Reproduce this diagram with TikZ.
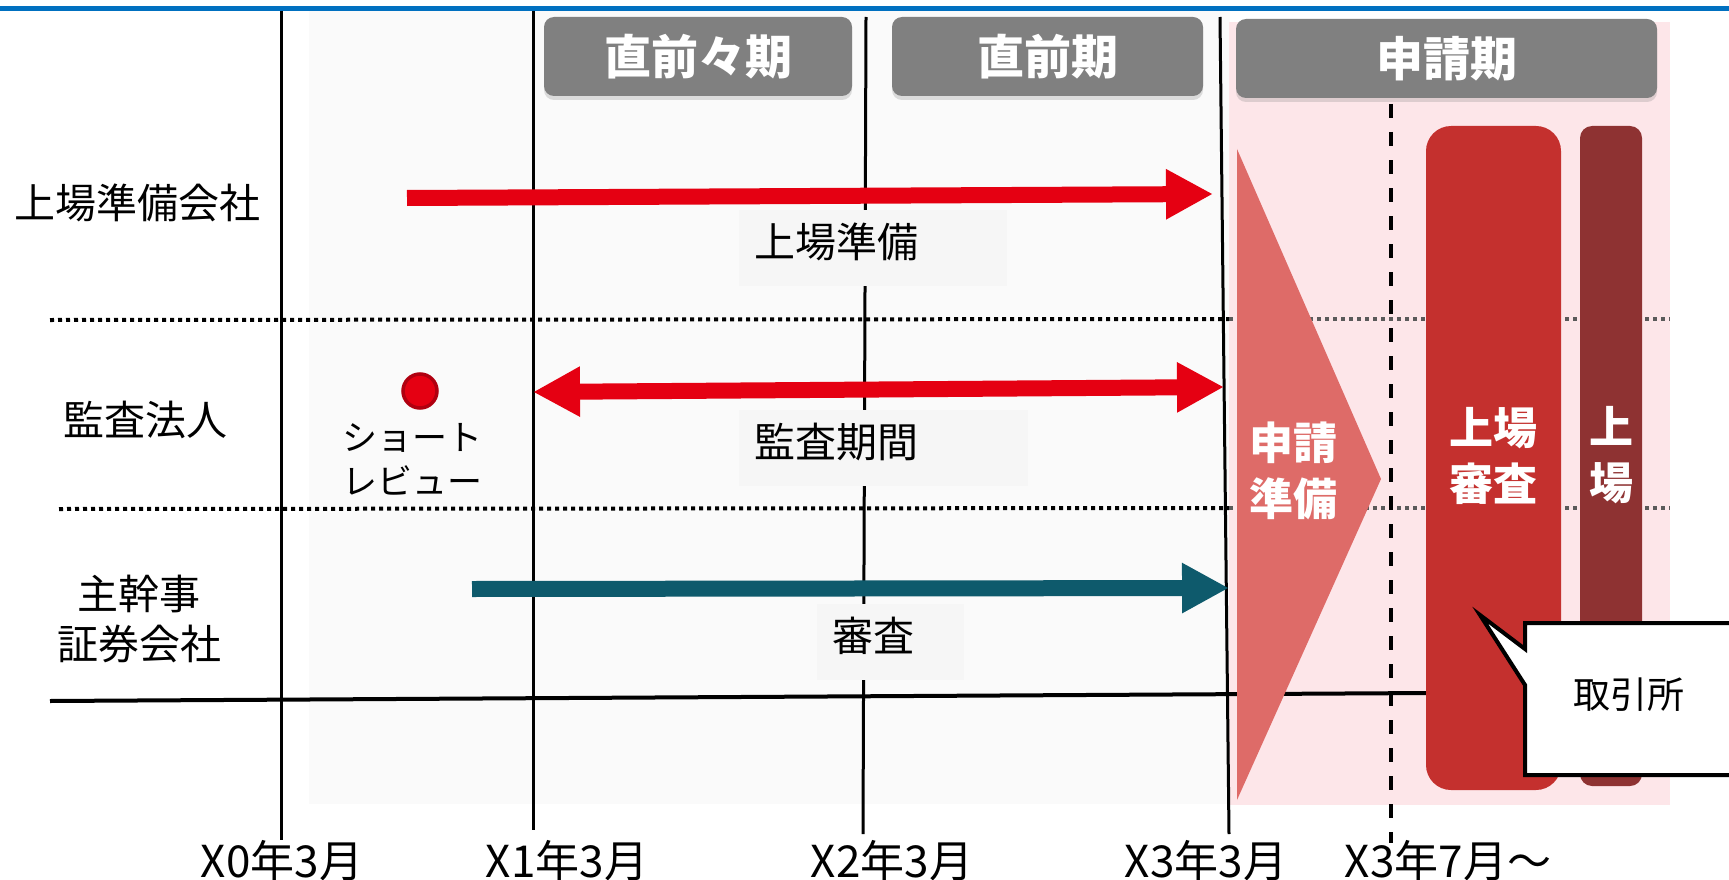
\documentclass[tikz,border=0pt]{standalone}
\usepackage{fontspec}
\newfontfamily\jp{Noto Sans CJK JP}
\usetikzlibrary{arrows.meta,shadows}
\definecolor{blueline}{RGB}{0,112,192}
\definecolor{arrred}{RGB}{229,0,18}
\definecolor{arrteal}{RGB}{14,90,108}
\definecolor{tricol}{RGB}{222,107,104}
\definecolor{barred}{RGB}{196,48,46}
\definecolor{bardark}{RGB}{142,50,50}
\definecolor{pinkbg}{RGB}{253,230,233}
\definecolor{graybg}{RGB}{250,250,250}
\definecolor{lblbg}{RGB}{246,246,246}
\definecolor{hdrgray}{RGB}{128,128,128}
\definecolor{dotgray}{RGB}{90,90,90}
\definecolor{dotdark}{RGB}{176,0,16}
\newcommand\myfs[2]{\fontsize{#1pt}{#2pt}\selectfont}
\newcommand\lift[1]{\raisebox{6pt}[\height][\depth]{#1}}
\begin{document}
\begin{tikzpicture}[x=1pt,y=-1pt,
  txt/.style={inner sep=0pt, align=center, font=\jp\myfs{41}{50}},
  hdr/.style={fill=hdrgray, rounded corners=10pt, inner sep=0pt, text=white,
     font=\jp\bfseries\myfs{47}{54}, drop shadow={shadow xshift=0pt, shadow yshift=-4pt, opacity=0.25}},
  lbox/.style={fill=lblbg, anchor=north west, inner xsep=15pt, inner ysep=0pt, align=left, font=\jp\myfs{41}{50}},
  vline/.style={line width=3pt, black},
  dotline/.style={line width=4pt, dash pattern=on 4pt off 4pt},
  wtxt/.style={inner sep=0pt, align=center, text=white, font=\jp\bfseries\myfs{44}{56}},
  axlbl/.style={inner sep=0pt, font=\jp\myfs{44}{50}},
  bigarrow/.style={line width=16pt, -{Triangle[length=47pt,width=47pt]}},
  dblarrow/.style={line width=16pt, {Triangle[length=47pt,width=47pt]}-{Triangle[length=47pt,width=47pt]}}
]
\useasboundingbox (0,0) rectangle (1729,880);
\fill[white] (0,0) rectangle (1729,880);
% backgrounds
\fill[graybg] (309,11) rectangle (1230,804);
\fill[pinkbg] (1229,22) rectangle (1670,805);
\draw[blueline, line width=5pt] (0,8.5) -- (1729,8.5);
% dotted separators
\coordinate (d1a) at (50,320); \coordinate (d1b) at (1229,319); \coordinate (d1c) at (1670,319);
\coordinate (d2a) at (59,509); \coordinate (d2b) at (1229,508); \coordinate (d2c) at (1670,508);
\draw[dotline, black] (d1a) -- (d1b);
\draw[dotline, dotgray] (d1b) -- (d1c);
\draw[dotline, black] (d2a) -- (d2b);
\draw[dotline, dotgray] (d2b) -- (d2c);
% bottom solid line
\coordinate (hl1) at (50,701); \coordinate (hl2) at (1430,693);
\draw[line width=4pt] (hl1) -- (hl2);
% vertical lines
\coordinate (v0t) at (281,11); \coordinate (v0b) at (281,840);
\coordinate (v1t) at (533,11); \coordinate (v1b) at (533,830);
\coordinate (v2t) at (866,17); \coordinate (v2b) at (863,834);
\coordinate (v3t) at (1220,17); \coordinate (v3b) at (1229,834);
\coordinate (v4t) at (1391,104); \coordinate (v4b) at (1391,843);
\draw[vline] (v0t) -- (v0b);
\draw[vline] (v1t) -- (v1b);
\draw[vline] (v2t) -- (v2b);
\draw[vline] (v3t) -- (v3b);
\draw[line width=3.5pt, dash pattern=on 14pt off 14pt] (v4t) -- (v4b);
% label boxes
\node[lbox, text width=238pt, minimum height=76pt] (lb1) at (739,210) {\lift{上場準備}};
\node[lbox, text width=259pt, minimum height=76pt] (lb2) at (739,410) {\lift{監査期間}};
\node[lbox, text width=117pt, minimum height=76pt] (lb3) at (817,604) {\lift{審査}};
% arrows
\coordinate (a1s) at (407,198); \coordinate (a1e) at (1213,194);
\coordinate (a2s) at (533,392); \coordinate (a2e) at (1224,387);
\coordinate (a3s) at (472,589); \coordinate (a3e) at (1229,588);
\draw[bigarrow, arrred] (a1s) -- (a1e);
\draw[dblarrow, arrred] (a2s) -- (a2e);
\draw[bigarrow, arrteal] (a3s) -- (a3e);
% application-period shapes
\fill[tricol] (1237,149) -- (1381,479) -- (1237,800) -- cycle;
\node[wtxt] (shinsei) at (1293,471) {申請\\準備};
\fill[barred, rounded corners=25pt] (1426,126) rectangle (1561,790);
\node[wtxt] (shinsa) at (1493,456) {上場\\審査};
\fill[bardark, rounded corners=12pt] (1580,126) rectangle (1642,786);
\node[wtxt] (jojo) at (1611,455) {上\\場};
% headers
\node[hdr, minimum width=308pt, minimum height=79pt] (h1) at (698,56.5) {直前々期};
\node[hdr, minimum width=311pt, minimum height=79pt] (h2) at (1047.5,56.5) {直前期};
\node[hdr, minimum width=421pt, minimum height=79pt] (h3) at (1446.5,58.5) {申請期};
% callout
\draw[fill=white, line width=4pt, line join=miter] (1525,623) -- (1740,623) -- (1740,775) -- (1525,775) -- (1525,685) -- (1480,615) -- (1525,649) -- cycle;
\node[inner sep=0pt, font=\jp\myfs{37}{44}] (tse) at (1629,695) {取引所};
% row labels
\node[txt] (r1) at (137,203) {上場準備会社};
\node[txt] (r2) at (145,420) {監査法人};
\node[txt] (r3) at (139,619) {主幹事\\証券会社};
% short review
\node[circle, fill=arrred, draw=dotdark, line width=3.5pt, minimum size=34pt, inner sep=0pt] (dot) at (420,391) {};
\node[txt, font=\jp\myfs{35}{44}] (sr) at (412,459) {ショート\\レビュー};
% axis labels
\node[axlbl] (x0) at (282,861) {X0年3月};
\node[axlbl] (x1) at (567,861) {X1年3月};
\node[axlbl] (x2) at (892,861) {X2年3月};
\node[axlbl] (x3) at (1206,861) {X3年3月};
\node[axlbl] (x4) at (1448,861) {X3年7月～};
\end{tikzpicture}
\end{document}
